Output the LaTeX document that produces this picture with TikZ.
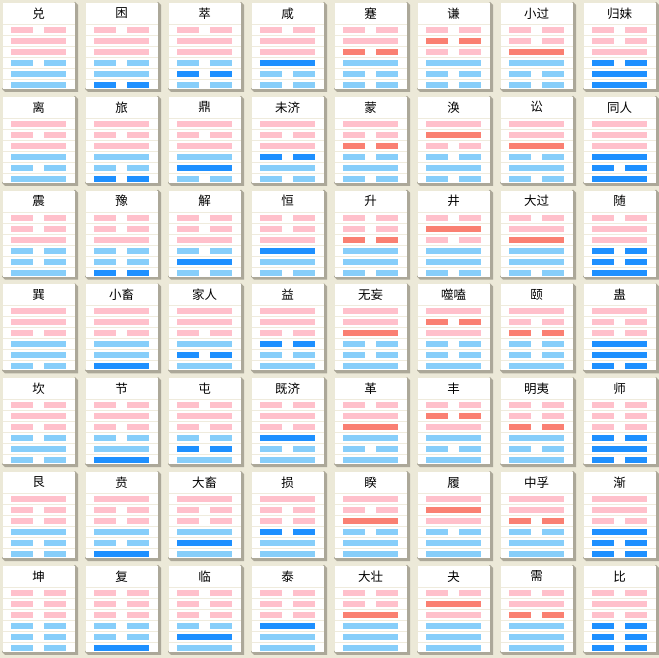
\documentclass[tikz,border=0pt]{standalone}
\usepackage{fontspec}
\newfontfamily\cjk{Noto Sans CJK SC}
\usetikzlibrary{positioning}
\definecolor{cBack}{HTML}{ECE9D8}
\definecolor{cShade}{HTML}{ACA899}
\definecolor{cRule}{HTML}{EFEBDD}
\definecolor{cUp}{HTML}{FFC0CB}
\definecolor{cUpHi}{HTML}{FA8072}
\definecolor{cLow}{HTML}{87CEFA}
\definecolor{cLowHi}{HTML}{1E90FF}
\tikzset{
  hexrule/.style = {draw=cRule, line width=1pt},
  hexname/.style = {inner sep=0pt, font=\cjk\fontsize{12.5}{14}\selectfont},
  hexbg/.style   = {fill=cBack, draw=none},
}
% one bar: #1 line from the top (1..6), #2 code 0/1 = yin/yang, a/b = marked yin/yang
\newcommand{\hexbar}[2]{%
  \pgfmathsetmacro{\by}{\cy+27+(#1-1)*11}%
  \ifnum#1<4 \def\bc{cUp}\def\bh{cUpHi}\else\def\bc{cLow}\def\bh{cLowHi}\fi
  \def\bt{#2}%
  \if#2a\let\bc\bh\def\bt{0}\fi
  \if#2b\let\bc\bh\def\bt{1}\fi
  \ifnum\bt=1\relax
    \fill[fill=\bc] (\cx+11,\by) rectangle ++(55,6);
  \else
    \fill[fill=\bc] (\cx+11,\by) rectangle ++(22,6);
    \fill[fill=\bc] (\cx+44,\by) rectangle ++(22,6);
  \fi}
\def\hexlines#1#2#3#4#5#6{\hexbar{1}{#1}\hexbar{2}{#2}\hexbar{3}{#3}%
  \hexbar{4}{#4}\hexbar{5}{#5}\hexbar{6}{#6}}
% one card: #1 column, #2 row, #3 name, #4 six lines (top first)
\newcommand{\hexcard}[4]{%
  \pgfmathsetmacro{\cx}{(#1-1)*83}%
  \pgfmathsetmacro{\cy}{(#2-1)*93.8}%
  \fill[cShade] (\cx+75,\cy+2) -- (\cx+78,\cy+5) -- (\cx+78,\cy+92)
    -- (\cx+5,\cy+92) -- (\cx+2,\cy+89) -- cycle;
  \fill[white] (\cx+3,\cy+3) rectangle (\cx+75,\cy+89);
  \foreach \k in {0,...,5}
    \draw[hexrule] (\cx+3,\cy+24.5+\k*11) -- (\cx+75,\cy+24.5+\k*11);
  \node[hexname] (n-#2-#1) at (\cx+38.5,\cy+13.5) {#3};
  \expandafter\hexlines#4}

\begin{document}
\begin{tikzpicture}[x=1pt, y=-1pt]
  \fill[hexbg] (0,0) rectangle (659,658);
  \useasboundingbox (0,0) rectangle (659,658);

  \foreach [count=\c] \name/\lines in {兑/011011, 困/01101a, 萃/0110a0, 咸/011b00,
      蹇/01a100, 谦/0a0100, 小过/00b100, 归妹/001abb}
    {\hexcard{\c}{1}{\name}{\lines}}
  \foreach [count=\c] \name/\lines in {离/101101, 旅/10110a, 鼎/1011b0, 未济/101a10,
      蒙/10a010, 涣/1b0010, 讼/11b010, 同人/111bab}
    {\hexcard{\c}{2}{\name}{\lines}}
  \foreach [count=\c] \name/\lines in {震/001001, 豫/00100a, 解/0010b0, 恒/001b10,
      升/00a110, 井/0b0110, 大过/01b110, 随/011aab}
    {\hexcard{\c}{3}{\name}{\lines}}
  \foreach [count=\c] \name/\lines in {巽/110110, 小畜/11011b, 家人/1101a1, 益/110a01,
      无妄/11b001, 噬嗑/1a1001, 颐/10a001, 蛊/100bba}
    {\hexcard{\c}{4}{\name}{\lines}}
  \foreach [count=\c] \name/\lines in {坎/010010, 节/01001b, 屯/0100a1, 既济/010b01,
      革/01b101, 丰/0a1101, 明夷/00a101, 师/000aba}
    {\hexcard{\c}{5}{\name}{\lines}}
  \foreach [count=\c] \name/\lines in {艮/100100, 贲/10010b, 大畜/1001b1, 损/100a11,
      睽/10b011, 履/1b1011, 中孚/11a011, 渐/110baa}
    {\hexcard{\c}{6}{\name}{\lines}}
  \foreach [count=\c] \name/\lines in {坤/000000, 复/00000b, 临/0000b1, 泰/000b11,
      大壮/00b111, 夬/0b1111, 需/01a111, 比/010aaa}
    {\hexcard{\c}{7}{\name}{\lines}}
\end{tikzpicture}
\end{document}
